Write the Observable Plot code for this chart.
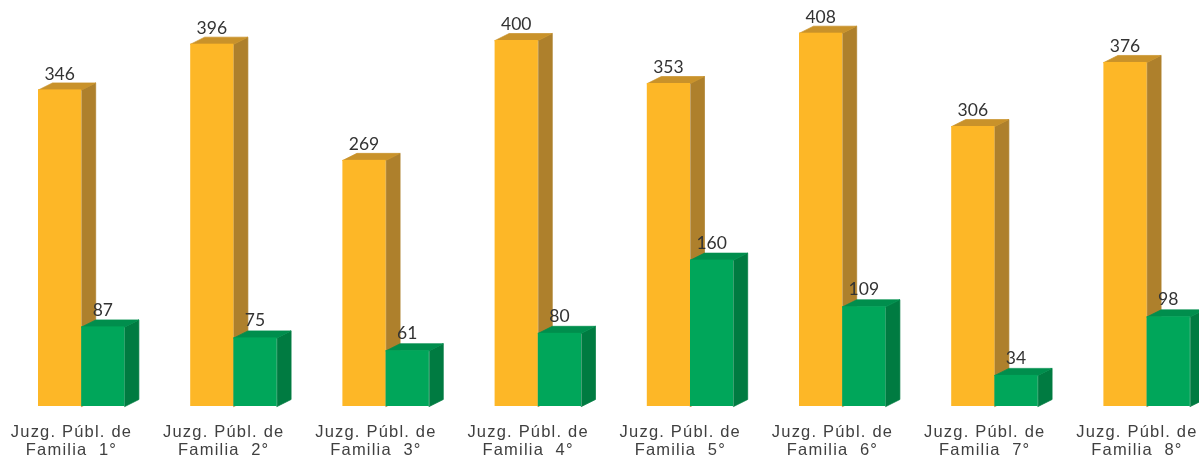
<!DOCTYPE html>
<html>
<head>
<meta charset="utf-8">
<script src="https://cdn.jsdelivr.net/npm/d3@7"></script>
<script src="https://cdn.jsdelivr.net/npm/@observablehq/plot@0.6"></script>
<style>
html,body{margin:0;padding:0;background:#fff;overflow:hidden}
svg{display:block;filter:blur(0.4px)}
</style>
</head>
<body>
<div id="chart"></div>
<script>
const categories = ["Jug1","Jug2","Jug3","Jug4","Jug5","Jug6","Jug7","Jug8"];
const tickLabels = [
  "Juzg. Públ. de\nFamilia\u00a0\u00a01°","Juzg. Públ. de\nFamilia\u00a0\u00a02°","Juzg. Públ. de\nFamilia\u00a0\u00a03°","Juzg. Públ. de\nFamilia\u00a0\u00a04°",
  "Juzg. Públ. de\nFamilia\u00a0\u00a05°","Juzg. Públ. de\nFamilia\u00a0\u00a06°","Juzg. Públ. de\nFamilia\u00a0\u00a07°","Juzg. Públ. de\nFamilia\u00a0\u00a08°"
];
const orangeValues = [346,396,269,400,353,408,306,376];
const greenValues  = [87,75,61,80,160,109,34,98];

// layout, in scale units
const step = 152.2, barW = 43.2 / step, depthX = 14 / step, depthY = 7 / 0.915;
const yMax = 406 / 0.915;

const series = [
  {key:"orange", values:orangeValues, off:0, front:"#FDB727", side:"#AE802C", top:"#C9922A"},
  {key:"green",  values:greenValues,  off:1, front:"#00A65A", side:"#007B41", top:"#008E4D"}
];
const rects = [], polys = [];
for (const s of series) {
  s.values.forEach((v, i) => {
    const a = i + s.off * barW, b = a + barW;
    rects.push({a, b, v, fill:s.front});
    const side = [[b,0],[b+depthX,depthY],[b+depthX,v+depthY],[b,v]];
    const top  = [[a,v],[a+depthX,v+depthY],[b+depthX,v+depthY],[b,v]];
    side.forEach(p => polys.push({x:p[0], y:p[1], id:`${s.key}-${i}-side`, fill:s.side}));
    top.forEach(p => polys.push({x:p[0], y:p[1], id:`${s.key}-${i}-top`, fill:s.top}));
  });
}
const nudge = -0.5 / step;
const orangeLabels = orangeValues.map((v,i)=>({x:i+barW/2+nudge, y:v, t:String(v)}));
const greenLabels  = greenValues.map((v,i)=>({x:i+barW*1.5+nudge, y:v, t:String(v)}));
const axisLabels   = categories.map((c,i)=>({x:i+33/step, t:tickLabels[i]}));

const byKind = k => polys.filter(p => p.id.startsWith(k));
const polyMark = k => Plot.line(byKind(k), {x:"x", y:"y", z:"id", fill:"fill", stroke:"fill", strokeWidth:0.7, curve:"linear-closed"});
const rectMark = k => Plot.rect(rects.filter(r => r.fill === k), {x1:"a", x2:"b", y1:0, y2:"v", fill:"fill"});

const chart = Plot.plot({
  width:1199, height:457,
  marginTop:0, marginRight:0, marginBottom:51, marginLeft:0,
  x:{domain:[-38/step,(1199-38)/step], axis:null},
  y:{domain:[0,yMax], axis:null},
  style:{background:"#fff", overflow:"hidden"},
  marks:[
    polyMark("orange"), rectMark(series[0].front),
    polyMark("green"), rectMark(series[1].front),
    Plot.text(orangeLabels, {x:"x", y:"y", text:"t", dy:-16, fontSize:17.5, fontFamily:"Lato", fill:"#333"}),
    Plot.text(greenLabels, {x:"x", y:"y", text:"t", dy:-17, fontSize:17.5, fontFamily:"Lato", fill:"#333"}),
    Plot.text(axisLabels, {x:"x", y:()=>0, text:"t", dy:33.5, lineHeight:1.1, fontSize:16.5, fontFamily:"Liberation Sans", fill:"#404040"})
  ]
});
d3.select(chart).selectAll("text").filter(function(){return this.textContent.includes("Juzg");}).style("letter-spacing","1.2px");
document.getElementById("chart").append(chart);
</script>
</body>
</html>
